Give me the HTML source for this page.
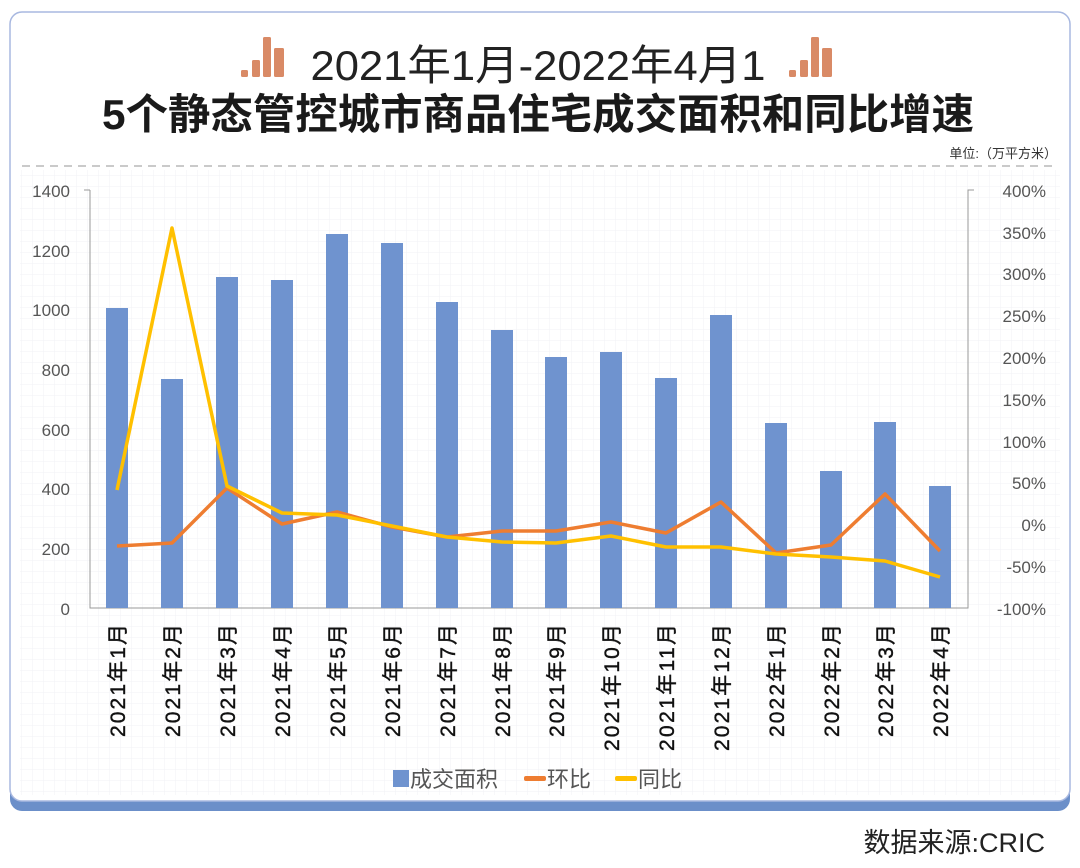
<!DOCTYPE html>
<html><head><meta charset="utf-8"><style>
html,body{margin:0;padding:0;background:#fff;}
svg{display:block;font-family:"Liberation Sans","Noto Sans CJK SC",sans-serif;}
</style></head><body>
<svg width="1080" height="868" viewBox="0 0 1080 868" xmlns="http://www.w3.org/2000/svg">
<defs>
<pattern id="g" width="11" height="11" patternUnits="userSpaceOnUse"><path d="M11 0V11H0" fill="none" stroke="#f0f2f6" stroke-width="1"/></pattern>
</defs>
<rect x="10" y="14" width="1060" height="797" rx="12" fill="#6b8fc9"/>
<rect x="10" y="12" width="1060" height="789" rx="12" fill="#fff" stroke="#a8b8e0" stroke-width="1.5"/>
<rect x="20" y="170" width="1040" height="625" fill="url(#g)"/>
<g fill="#d98a66">
<rect x="241" y="70" width="7" height="7" rx="1.5"/><rect x="252" y="60" width="8" height="17" rx="1.5"/><rect x="263" y="37" width="8" height="40" rx="1.5"/><rect x="274" y="48" width="10" height="29" rx="1.5"/>
<rect x="789" y="70" width="7" height="7" rx="1.5"/><rect x="800" y="60" width="8" height="17" rx="1.5"/><rect x="811" y="37" width="8" height="40" rx="1.5"/><rect x="822" y="48" width="10" height="29" rx="1.5"/>
</g>
<text x="538" y="80" font-size="42" text-anchor="middle" fill="#222" textLength="455" lengthAdjust="spacingAndGlyphs">2021年1月-2022年4月1</text>
<text x="538" y="129" font-size="42" font-weight="bold" text-anchor="middle" fill="#1a1a1a" textLength="872" lengthAdjust="spacingAndGlyphs">5个静态管控城市商品住宅成交面积和同比增速</text>
<line x1="22" y1="166" x2="1058" y2="166" stroke="#aaa" stroke-width="1.2" stroke-dasharray="8,6"/>
<text x="1057" y="158" font-size="13" text-anchor="end" fill="#333">单位:（万平方米）</text>
<g stroke="#999" stroke-width="1" fill="none">
<path d="M90 190H84M90 190V608H968V190H974"/>
</g>
<g font-size="17" fill="#555" text-anchor="end">
<text x="70" y="197">1400</text><text x="70" y="257">1200</text><text x="70" y="316">1000</text><text x="70" y="376">800</text><text x="70" y="436">600</text><text x="70" y="495">400</text><text x="70" y="555">200</text><text x="70" y="615">0</text>
</g>
<g font-size="17" fill="#555" text-anchor="end">
<text x="1046" y="197">400%</text><text x="1046" y="239">350%</text><text x="1046" y="280">300%</text><text x="1046" y="322">250%</text><text x="1046" y="364">200%</text><text x="1046" y="406">150%</text><text x="1046" y="448">100%</text><text x="1046" y="489">50%</text><text x="1046" y="531">0%</text><text x="1046" y="573">-50%</text><text x="1046" y="615">-100%</text>
</g>
<g fill="#6f93cf">
<rect x="106" y="308" width="22" height="300"/>
<rect x="161" y="379" width="22" height="229"/>
<rect x="216" y="277" width="22" height="331"/>
<rect x="271" y="280" width="22" height="328"/>
<rect x="326" y="234" width="22" height="374"/>
<rect x="381" y="243" width="22" height="365"/>
<rect x="436" y="302" width="22" height="306"/>
<rect x="491" y="330" width="22" height="278"/>
<rect x="545" y="357" width="22" height="251"/>
<rect x="600" y="352" width="22" height="256"/>
<rect x="655" y="378" width="22" height="230"/>
<rect x="710" y="315" width="22" height="293"/>
<rect x="765" y="423" width="22" height="185"/>
<rect x="820" y="471" width="22" height="137"/>
<rect x="874" y="422" width="22" height="186"/>
<rect x="929" y="486" width="22" height="122"/>
</g>
<polyline fill="none" stroke="#ee7d31" stroke-width="3.5" stroke-linejoin="round" points="117,546 172,543 227,488 282,524 337,512 392,527 447,537 502,531 556,531 611,522 666,533 721,502 776,553 831,545 885,494 940,551"/>
<polyline fill="none" stroke="#ffc000" stroke-width="3.5" stroke-linejoin="round" points="117,490 172,228 227,486 282,513 337,515 392,526 447,537 502,542 556,543 611,536 666,547 721,547 776,554 831,557 885,561 940,577"/>
<g font-size="21" fill="#111" text-anchor="end" stroke="#111" stroke-width="0.4" lengthAdjust="spacingAndGlyphs">
<text transform="translate(125,624) rotate(-90)" textLength="113">2021年1月</text>
<text transform="translate(180,624) rotate(-90)" textLength="113">2021年2月</text>
<text transform="translate(235,624) rotate(-90)" textLength="113">2021年3月</text>
<text transform="translate(290,624) rotate(-90)" textLength="113">2021年4月</text>
<text transform="translate(345,624) rotate(-90)" textLength="113">2021年5月</text>
<text transform="translate(400,624) rotate(-90)" textLength="113">2021年6月</text>
<text transform="translate(455,624) rotate(-90)" textLength="113">2021年7月</text>
<text transform="translate(510,624) rotate(-90)" textLength="113">2021年8月</text>
<text transform="translate(564,624) rotate(-90)" textLength="113">2021年9月</text>
<text transform="translate(619,624) rotate(-90)" textLength="127">2021年10月</text>
<text transform="translate(674,624) rotate(-90)" textLength="127">2021年11月</text>
<text transform="translate(729,624) rotate(-90)" textLength="127">2021年12月</text>
<text transform="translate(784,624) rotate(-90)" textLength="113">2022年1月</text>
<text transform="translate(839,624) rotate(-90)" textLength="113">2022年2月</text>
<text transform="translate(893,624) rotate(-90)" textLength="113">2022年3月</text>
<text transform="translate(948,624) rotate(-90)" textLength="113">2022年4月</text>
</g>
<rect x="393" y="770" width="16" height="17" fill="#6f93cf"/>
<text x="410" y="787" font-size="22" fill="#555">成交面积</text>
<rect x="524" y="776" width="22" height="5" rx="2" fill="#ee7d31"/>
<text x="547" y="787" font-size="22" fill="#555">环比</text>
<rect x="615" y="776" width="22" height="5" rx="2" fill="#ffc000"/>
<text x="638" y="787" font-size="22" fill="#555">同比</text>
<text x="1045" y="852" font-size="27" text-anchor="end" fill="#222">数据来源:CRIC</text>
</svg>
</body></html>
